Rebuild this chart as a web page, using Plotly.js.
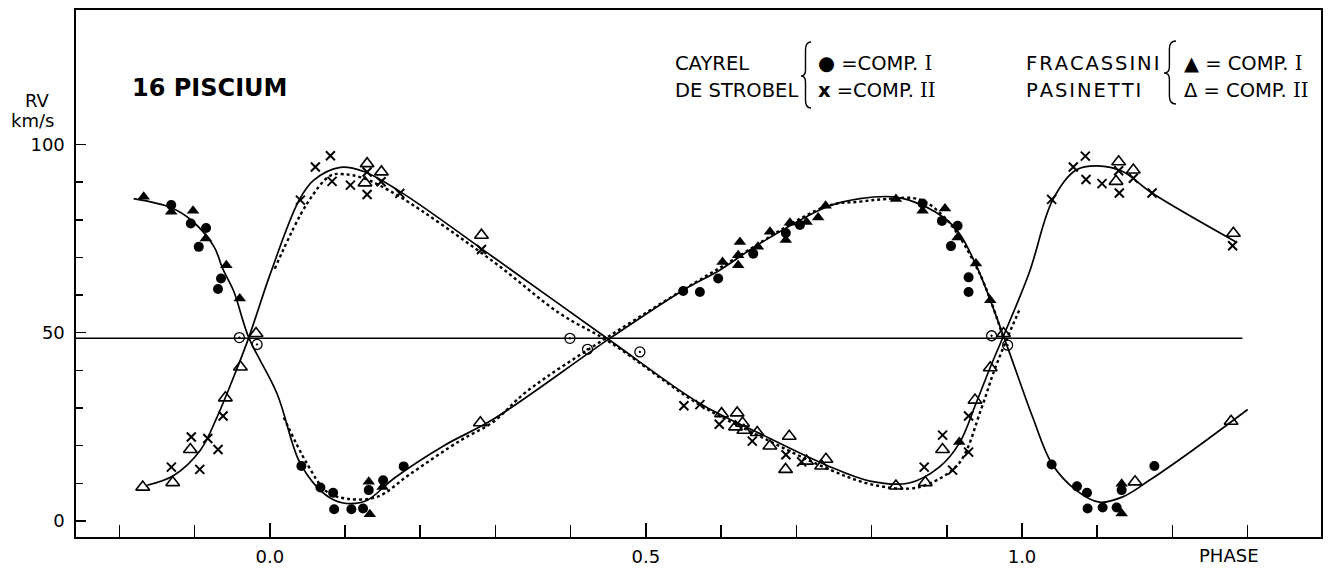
<!DOCTYPE html>
<html>
<head>
<meta charset="utf-8">
<script src="https://cdn.plot.ly/plotly-3.0.1.min.js"></script>
<style>html,body{margin:0;padding:0;background:#fff}#chart{width:1328px;height:572px}</style>
</head>
<body>
<div id="chart"></div>
<script>
// ---------- DATA (phase, radial velocity km/s) ----------
const cayrelI_phase = [-0.131,-0.105,-0.0847,-0.0944,-0.0648,-0.0688,0.042,0.0673,0.0842,0.0856,0.1085,0.124,0.1316,0.1507,0.178,
  0.5496,0.5718,0.5961,0.6427,0.686,0.7048,0.8678,0.8936,0.9144,0.9056,0.929,0.929,1.0394,1.0731,1.0864,1.0872,1.1072,1.1258,1.1325,1.176];
const cayrelI_rv = [83.9,79.0,77.8,72.8,64.4,61.6,14.6,8.9,7.5,3.1,3.1,3.3,8.2,10.8,14.5,
  61.1,60.8,64.4,71.0,76.5,78.6,84.3,79.7,78.4,73.0,64.7,60.8,15.0,9.2,7.5,3.3,3.6,3.6,8.2,14.6];

const cayrelII_phase = [-0.1308,-0.1043,-0.0931,-0.0824,-0.0688,-0.0621,0.0407,0.0606,0.0806,0.0828,0.1072,0.1294,0.1294,0.148,0.1729,0.2814,
  0.5505,0.5718,0.5975,0.6414,0.6862,0.707,0.870,0.8944,0.9077,0.929,0.929,1.0394,1.0682,1.0842,1.0851,1.1064,1.1285,1.1294,1.148,1.1729,1.280];
const cayrelII_rv = [14.3,22.3,13.7,21.9,19.0,27.9,85.2,94.0,97.0,90.2,89.2,92.7,86.7,90.1,87.0,72.1,
  30.6,30.9,25.7,21.2,17.6,15.7,14.3,22.8,13.5,18.3,27.9,85.4,94.0,96.9,90.7,89.6,93.0,87.1,91.0,87.1,73.1];

const fracI_phase = [-0.1676,-0.131,-0.102,-0.085,-0.0577,-0.0399,0.133,0.1316,0.15,
  0.6019,0.6227,0.6227,0.625,0.649,0.665,0.686,0.6915,0.7136,0.729,0.7389,0.8324,0.8678,0.8976,0.9144,0.9388,0.9578,0.9166,1.1325,1.1325];
const fracI_rv = [86.1,82.1,82.4,75.0,67.9,59.1,1.8,10.4,9.0,
  68.8,70.6,67.9,74.1,72.8,76.8,74.6,79.2,79.4,80.6,83.7,85.5,82.4,83.0,75.3,68.4,58.6,21.0,2.0,9.9];

const fracII_phase = [-0.1689,-0.129,-0.1056,-0.059,-0.039,-0.0182,0.1266,0.1294,0.1484,0.280,0.2814,
  0.6006,0.6192,0.6214,0.6285,0.6303,0.648,0.6649,0.6857,0.6906,0.7136,0.7336,0.7394,0.8324,0.8714,0.8944,0.9375,0.9578,0.9755,
  1.125,1.1285,1.148,1.1503,1.278,1.281];
const fracII_rv = [9.0,10.2,19.0,32.7,40.9,49.8,89.8,94.9,92.7,26.1,75.9,
  28.5,25.0,28.7,26.0,24.1,23.5,19.9,13.7,22.5,15.9,14.6,16.4,9.3,10.2,19.0,32.1,40.7,49.8,
  90.2,95.4,93.2,10.4,26.5,76.4];

const blended_phase = [-0.0404,-0.0169,0.399,0.4224,0.492,0.9596,0.9809];
const blended_rv = [48.7,46.9,48.5,45.6,44.9,49.2,46.7];

// fitted orbit curves
const fitI_phase = [-0.181,-0.131,-0.105,-0.0745,-0.0626,-0.0479,-0.0279,0.0097,0.0386,0.0629,0.0852,0.1074,0.1295,0.1649,0.2314,0.297,0.452,0.5496,0.598,0.6516,0.7404,0.7846,0.8288,0.8501,0.8945,0.9166,0.9411,0.9765,1.0141,1.0398,1.0718,1.1028,1.1338,1.1693,1.2269,1.300];
const fitI_rv = [85.6,83.2,80.0,73.0,67.0,61.0,48.7,33.8,16.1,9.0,5.6,4.6,5.5,11.3,20.0,27.0,48.5,61.3,66.6,73.7,83.4,85.6,86.1,85.2,80.8,76.4,67.0,48.5,27.6,15.2,8.2,5.0,6.4,10.8,18.8,29.6];

const fitII_phase = [-0.1632,-0.1277,-0.0923,-0.0701,-0.0479,-0.0279,0.0008,0.039,0.0585,0.0939,0.125,0.1738,0.297,0.452,0.5718,0.6516,0.7402,0.7979,0.8501,0.890,0.9166,0.9388,0.958,0.9747,1.0097,1.0407,1.0718,1.1005,1.1338,1.1729,1.2846];
const fitII_rv = [9.5,12.1,18.8,27.6,38.3,48.7,65.7,85.2,90.5,93.9,92.8,87.4,70.1,48.0,31.2,23.2,14.8,10.6,10.1,14.3,20.6,31.2,40.9,48.8,66.0,85.2,93.2,94.3,92.8,87.1,74.1];

const dotI_phase = [0.0186,0.0496,0.0758,0.1031,0.1427,0.1854,0.2535,0.297,0.341,0.452,0.598,0.7404,0.7846,0.82,0.8634,0.9,0.943,0.975];
const dotI_rv = [27.5,15.2,7.8,5.9,6.4,12.3,21.4,26.3,34.3,49.2,67.2,83.6,84.8,85.5,85.4,80.0,66.0,48.8];

const dotII_phase = [0.0066,0.0496,0.0806,0.0984,0.125,0.1738,0.297,0.3856,0.452,0.5718,0.6516,0.7402,0.7979,0.85,0.8767,0.9166,0.9455,0.9632,0.9809,0.9964];
const dotII_rv = [67.0,84.3,91.7,92.1,91.0,86.0,68.9,55.1,47.5,30.8,22.5,14.0,9.8,8.6,9.9,15.4,29.6,40.0,48.8,56.0];

const gamma_phase = [-0.2576, 1.293];
const gamma_rv = [48.5, 48.5];

const xTickVals = [0, 0.5, 1.0];
const xTickText = ['0.0', '0.5', '1.0'];
const xMinorVals = [-0.2,-0.1,0.1,0.2,0.3,0.4,0.6,0.7,0.8,0.9,1.1,1.2,1.3];
const yTickVals = [0, 50, 100];
const yTickText = ['0', '50', '100'];
const yMinorVals = [10,20,30,40,60,70,80,90];

// ---------- LAYOUT HELPERS ----------
const L = 76, R = 1321, T = 10, B = 536.7;
const px = x => (x - L) / (R - L);
const py = y => (B - y) / (B - T);
const FONT = 'DejaVu Sans, sans-serif';

const lineTrace = (x, y, dash, w) => ({x, y, type: 'scatter', mode: 'lines',
  line: {color: '#000', width: w, dash: dash, shape: 'spline', smoothing: 1}, hoverinfo: 'skip'});
const markTrace = (x, y, sym, size, lw) => ({x, y, type: 'scatter', mode: 'markers',
  marker: {symbol: sym, size: size, color: '#000', line: {color: '#000', width: lw}}});

const traces = [
  {x: gamma_phase, y: gamma_rv, type: 'scatter', mode: 'lines', line: {color: '#000', width: 1.5}},
  lineTrace(dotI_phase, dotI_rv, 'dot', 2.4),
  lineTrace(dotII_phase, dotII_rv, 'dot', 2.4),
  lineTrace(fitI_phase, fitI_rv, 'solid', 1.7),
  lineTrace(fitII_phase, fitII_rv, 'solid', 1.7),
  markTrace(cayrelI_phase, cayrelI_rv, 'circle', 10, 0),
  markTrace(cayrelII_phase, cayrelII_rv, 'x-thin-open', 9, 2),
  markTrace(fracI_phase, fracI_rv, 'triangle-up', 11, 0),
  markTrace(fracII_phase, fracII_rv, 'triangle-up-open', 12, 1.6),
  markTrace(blended_phase, blended_rv, 'circle-open-dot', 10, 1.3)
];

function ann(text, x, y, size, xanchor, extra) {
  return Object.assign({text, x: px(x), y: py(y), xref: 'paper', yref: 'paper',
    xanchor: xanchor || 'left', yanchor: 'middle', showarrow: false,
    font: {family: FONT, size: size, color: '#000'}}, extra || {});
}
const spaced = s => s.split('').join('\u200A');
const I1 = '<span style="font-family:DejaVu Serif">I</span>';
const I2 = '<span style="font-family:DejaVu Serif">II</span>';

const annotations = [
  ann('<b>16 PISCIUM</b>', 130, 88, 24),
  ann('RV', 52, 100, 18, 'right'),
  ann('km/s', 56, 120, 18, 'right'),
  ann('CAYREL', 673, 63, 19.5),
  ann('DE STROBEL', 673, 90, 19.5),
  ann('\u25CF =COMP. ' + I1, 816, 63, 19.5),
  ann('<b>x</b> =COMP. ' + I2, 816, 90, 19.5),
  ann(spaced('FRACASSINI'), 1024, 63, 19.5),
  ann(spaced('PASINETTI'), 1024, 90, 19.5),
  ann('\u25B2 = COMP. ' + I1, 1182, 63, 19.5),
  ann('\u0394 = COMP. ' + I2, 1182, 90, 19.5),
  ann('PHASE', 1229, 555, 18, 'center')
];

function brace(xr, top, tip, bot, w) {
  const xb = xr - w * 0.55, xt = xr - w;
  const P = (x, y) => px(x).toFixed(5) + ',' + py(y).toFixed(5);
  return 'M' + P(xr, top) + ' Q' + P(xb, top) + ' ' + P(xb, top + 8) +
    ' L' + P(xb, tip - 6) + ' Q' + P(xb, tip) + ' ' + P(xt, tip) +
    ' Q' + P(xb, tip) + ' ' + P(xb, tip + 6) +
    ' L' + P(xb, bot - 8) + ' Q' + P(xb, bot) + ' ' + P(xr, bot);
}
const shapes = [
  {type: 'path', xref: 'paper', yref: 'paper', path: brace(811, 42, 76, 108, 10), line: {color: '#000', width: 1.4}},
  {type: 'path', xref: 'paper', yref: 'paper', path: brace(1176, 41, 73, 104, 12), line: {color: '#000', width: 1.4}}
];

const layout = {
  width: 1328, height: 572,
  margin: {l: L, r: 1328 - R, t: T, b: 572 - B},
  paper_bgcolor: '#fff', plot_bgcolor: '#fff',
  showlegend: false,
  font: {family: FONT, color: '#000'},
  xaxis: {range: [-0.2576, 1.3975], showgrid: false, zeroline: false,
    showline: true, mirror: true, linecolor: '#000', linewidth: 1.6,
    tickmode: 'array', tickvals: xTickVals, ticktext: xTickText,
    ticks: 'inside', ticklen: 14, tickwidth: 1.5, tickcolor: '#000',
    tickfont: {family: FONT, size: 18, color: '#000'}, ticklabelstandoff: 3,
    minor: {tickmode: 'array', tickvals: xMinorVals, ticks: 'inside', ticklen: 12, tickwidth: 1.5, tickcolor: '#000', showgrid: false}},
  yaxis: {range: [-4.25, 135.7], showgrid: false, zeroline: false,
    showline: true, mirror: true, linecolor: '#000', linewidth: 1.6,
    tickmode: 'array', tickvals: yTickVals, ticktext: yTickText,
    ticks: 'inside', ticklen: 10, tickwidth: 1.5, tickcolor: '#000',
    tickfont: {family: FONT, size: 18, color: '#000'}, ticklabelstandoff: 6,
    minor: {tickmode: 'array', tickvals: yMinorVals, ticks: 'inside', ticklen: 7, tickwidth: 1.5, tickcolor: '#000', showgrid: false}},
  annotations, shapes
};

Plotly.newPlot('chart', traces, layout, {staticPlot: true, displayModeBar: false});
</script>
</body>
</html>
